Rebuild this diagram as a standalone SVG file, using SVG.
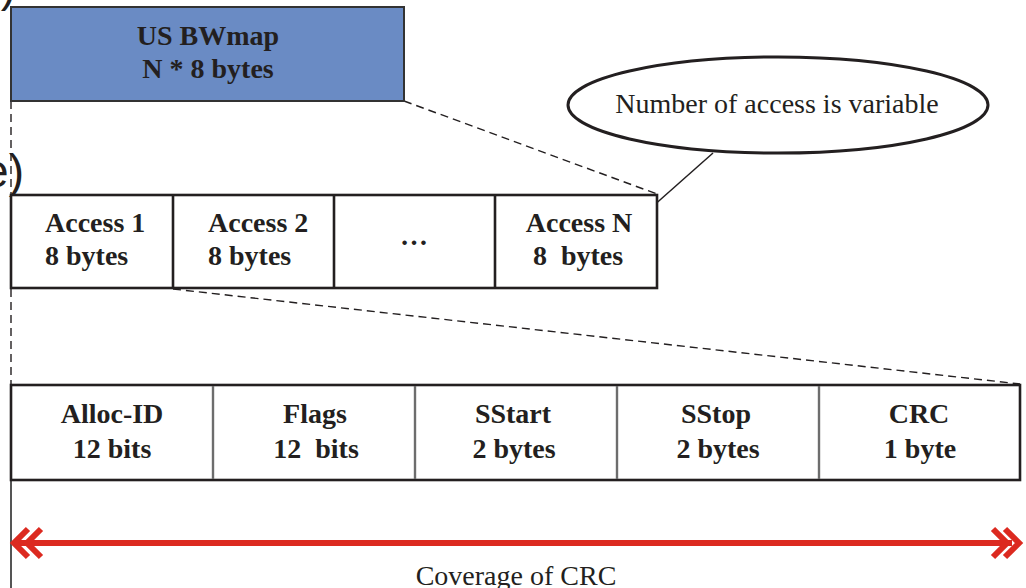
<svg xmlns="http://www.w3.org/2000/svg" width="1026" height="588" viewBox="0 0 1026 588">
<style>
.box{fill:#fff;stroke:#231f20;stroke-width:2.6}
.div{stroke:#231f20;stroke-width:2.6}
.div2{stroke:#6d6d6d;stroke-width:2.4}
.dash{fill:none;stroke:#231f20;stroke-width:1.4;stroke-dasharray:8 5}
.b{font-family:"Liberation Serif","Times New Roman",serif;font-weight:bold;font-size:28px;fill:#231f20}
.r{font-family:"Liberation Serif","Times New Roman",serif;font-size:28px;fill:#231f20}
.s{font-family:"Liberation Sans",Arial,sans-serif;font-size:46px;fill:#231f20}
.red{fill:none;stroke:#dc2a20;stroke-width:6}
</style>
<text class="s" x="16" y="1" text-anchor="end">)</text>
<text class="s" x="24" y="187" text-anchor="end">e)</text>
<g id="connectors">
<line class="dash" x1="11" y1="101" x2="11" y2="194"/>
<line class="dash" x1="11" y1="289" x2="11" y2="384"/>
<line x1="11" y1="384" x2="11" y2="588" stroke="#555" stroke-width="2"/>
<line class="dash" x1="404" y1="101" x2="657" y2="194"/>
<line class="dash" x1="173" y1="289" x2="1020" y2="384"/>
<line x1="713" y1="153" x2="643" y2="215" stroke="#231f20" stroke-width="1.5"/>
</g>
<g id="bwmap">
<rect x="11" y="7" width="393" height="94" fill="#6a8bc4" stroke="#333" stroke-width="2"/>
<text class="b" x="208" y="45" text-anchor="middle">US BWmap</text>
<text class="b" x="208" y="78" text-anchor="middle">N * 8 bytes</text>
</g>
<g id="access-row">
<rect class="box" x="11" y="195" width="646" height="93"/>
<line class="div" x1="173" y1="195" x2="173" y2="288"/>
<line class="div" x1="334" y1="195" x2="334" y2="288"/>
<line class="div" x1="495" y1="195" x2="495" y2="288"/>
</g>
<g id="access1"><text class="b" x="45" y="232">Access 1</text><text class="b" x="45" y="265">8 bytes</text></g>
<g id="access2"><text class="b" x="208" y="232">Access 2</text><text class="b" x="208" y="265">8 bytes</text></g>
<g id="dots"><text class="b" x="414" y="245" text-anchor="middle">…</text></g>
<g id="accessN"><text class="b" x="579" y="232" text-anchor="middle">Access N</text><text class="b" x="578" y="265" text-anchor="middle" style="white-space:pre">8  bytes</text></g>
<g id="note">
<ellipse cx="778" cy="105" rx="210" ry="48" fill="#fff" stroke="#231f20" stroke-width="3"/>
<text class="r" x="777" y="113" text-anchor="middle">Number of access is variable</text>
</g>
<g id="fields">
<rect class="box" x="11" y="385" width="1009" height="95"/>
<line class="div2" x1="213" y1="386" x2="213" y2="479"/>
<line class="div2" x1="415" y1="386" x2="415" y2="479"/>
<line class="div2" x1="617" y1="386" x2="617" y2="479"/>
<line class="div2" x1="819" y1="386" x2="819" y2="479"/>
</g>
<g id="alloc"><text class="b" x="112" y="423" text-anchor="middle">Alloc-ID</text><text class="b" x="112" y="458" text-anchor="middle">12 bits</text></g>
<g id="flags"><text class="b" x="315" y="423" text-anchor="middle">Flags</text><text class="b" x="316" y="458" text-anchor="middle" style="white-space:pre">12  bits</text></g>
<g id="sstart"><text class="b" x="513" y="423" text-anchor="middle">SStart</text><text class="b" x="514" y="458" text-anchor="middle">2 bytes</text></g>
<g id="sstop"><text class="b" x="716" y="423" text-anchor="middle">SStop</text><text class="b" x="718" y="458" text-anchor="middle">2 bytes</text></g>
<g id="crc"><text class="b" x="919" y="423" text-anchor="middle">CRC</text><text class="b" x="920" y="458" text-anchor="middle">1 byte</text></g>
<g id="coverage">
<line class="red" x1="16" y1="543" x2="1012" y2="543"/>
<polyline class="red" points="28,529 14,543 28,557"/>
<polyline class="red" points="41,529 27,543 41,557"/>
<polyline class="red" points="993,529 1007,543 993,557"/>
<polyline class="red" points="1005,529 1019,543 1005,557"/>
<text class="r" x="516" y="585" text-anchor="middle">Coverage of CRC</text>
</g>
</svg>
